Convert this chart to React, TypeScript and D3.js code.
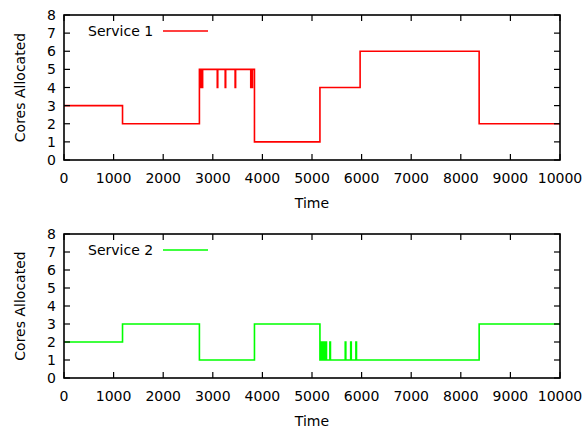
import React from "react";
import * as d3 from "d3";

const xTicks = [0, 1000, 2000, 3000, 4000, 5000, 6000, 7000, 8000, 9000, 10000];
const yTicks = [0, 1, 2, 3, 4, 5, 6, 7, 8];

// Service 1: step changes (time, cores) – value holds until next time
const s1Times = [0, 1180, 2730, 2755, 2765, 2785, 2795, 3090, 3100, 3250, 3260, 3450, 3460, 3765, 3775, 3790, 3800, 3840, 5160, 5970, 8370, 10000];
const s1Values = [3, 2, 5, 4, 5, 4, 5, 4, 5, 4, 5, 4, 5, 4, 5, 4, 5, 1, 4, 6, 2, 2];

// Service 2
const s2Times = [0, 1180, 2730, 3840, 5160, 5175, 5187, 5200, 5212, 5240, 5252, 5280, 5292, 5360, 5372, 5670, 5682, 5780, 5792, 5885, 5897, 8370, 10000];
const s2Values = [2, 3, 1, 3, 1, 2, 1, 2, 1, 2, 1, 2, 1, 2, 1, 2, 1, 2, 1, 2, 1, 3, 3];

const W = 587;
const H = 433;
const FONT = "DejaVu Sans, Verdana, sans-serif";
const FS = 14;

type PanelProps = {
  top: number;
  bottom: number;
  times: number[];
  values: number[];
  color: string;
  label: string;
};

function Panel({ top, bottom, times, values, color, label }: PanelProps) {
  const left = 64;
  const right = 560;
  const x = d3.scaleLinear().domain([0, 10000]).range([left, right]);
  const y = d3.scaleLinear().domain([0, 8]).range([bottom, top]);
  const pts: [number, number][] = times.map((t, i) => [t, values[i]]);
  const line = d3
    .line<[number, number]>()
    .x((d) => x(d[0]))
    .y((d) => y(d[1]))
    .curve(d3.curveStepAfter);
  const tl = 6;
  const legendY = top + 16;
  return (
    <g>
      <path d={line(pts) || ""} fill="none" stroke={color} strokeWidth={1.6} />
      {xTicks.map((t) => (
        <g key={"x" + t}>
          <line x1={x(t)} x2={x(t)} y1={bottom} y2={bottom - tl} stroke="#000" strokeWidth={1.2} />
          <line x1={x(t)} x2={x(t)} y1={top} y2={top + tl} stroke="#000" strokeWidth={1.2} />
          <text x={x(t)} y={bottom + 22.5} textAnchor="middle" fontFamily={FONT} fontSize={FS} fill="#000">
            {t}
          </text>
        </g>
      ))}
      {yTicks.map((t) => (
        <g key={"y" + t}>
          <line x1={left} x2={left + tl} y1={y(t)} y2={y(t)} stroke="#000" strokeWidth={1.2} />
          <line x1={right} x2={right - tl} y1={y(t)} y2={y(t)} stroke="#000" strokeWidth={1.2} />
          <text x={56} y={y(t) + 5} textAnchor="end" fontFamily={FONT} fontSize={FS} fill="#000">
            {t}
          </text>
        </g>
      ))}
      <rect x={left} y={top} width={right - left} height={bottom - top} fill="none" stroke="#000" strokeWidth={1.6} />
      <text x={312} y={bottom + 48} textAnchor="middle" fontFamily={FONT} fontSize={FS} fill="#000">
        Time
      </text>
      <text
        transform={`translate(25,${(top + bottom) / 2}) rotate(-90)`}
        textAnchor="middle"
        fontFamily={FONT}
        fontSize={FS}
        fill="#000"
      >
        Cores Allocated
      </text>
      <text x={88} y={legendY + 5} fontFamily={FONT} fontSize={FS} fill="#000">
        {label}
      </text>
      <line x1={163} x2={208} y1={legendY} y2={legendY} stroke={color} strokeWidth={1.6} />
    </g>
  );
}

export default function App() {
  return (
    <svg
      width={W}
      height={H}
      style={{ position: "absolute", left: 0, top: 0, background: "#fff" }}
    >
      <rect width={W} height={H} fill="#fff" />
      <Panel top={15} bottom={160} times={s1Times} values={s1Values} color="#ff0000" label="Service 1" />
      <Panel top={234} bottom={378} times={s2Times} values={s2Values} color="#00ff00" label="Service 2" />
    </svg>
  );
}
